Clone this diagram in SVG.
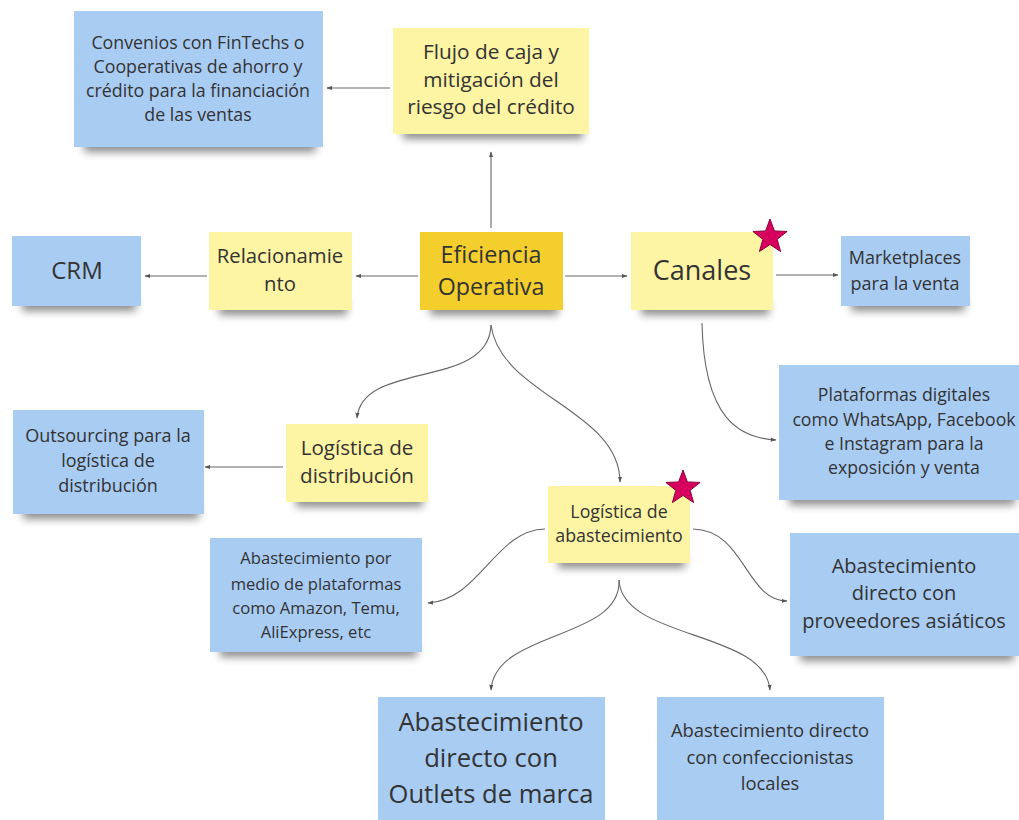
<svg xmlns="http://www.w3.org/2000/svg" width="1019" height="820" viewBox="0 0 1019 820">
  <defs>
    <filter id="shadowBlur" x="-20%" y="-100%" width="140%" height="300%">
      <feGaussianBlur stdDeviation="4"/>
    </filter>
    <marker id="arrow" viewBox="0 0 10 10" refX="9" refY="5" markerWidth="6" markerHeight="6" orient="auto-start-reverse" markerUnits="userSpaceOnUse">
      <path d="M0,1.5 L10,5 L0,8.5 z" fill="#555"/>
    </marker>
    <polygon id="star" points="0,-18 4.41,-6.07 17.12,-5.56 7.13,2.32 10.58,14.56 0,7.5 -10.58,14.56 -7.13,2.32 -17.12,-5.56 -4.41,-6.07"/>
  </defs>
  <style>
    .blue { fill: #a9ccf3; }
    .yellow { fill: #fdf4a4; }
    .main { fill: #f4ce2d; }
    .shadow { fill: #000; opacity: 0.45; filter: url(#shadowBlur); }
    text { font-family: "Open Sans", "Noto Sans", "DejaVu Sans", sans-serif; fill: #333; text-anchor: middle; }
    .edge { fill: none; stroke: #666; stroke-width: 1.1; marker-end: url(#arrow); }
    .star { fill: #d8005e; stroke: #8a0038; stroke-width: 1; }
  </style>

  <rect width="1019" height="820" fill="#ffffff"/>

  <!-- connectors -->
  <g id="connectors">
    <path class="edge" d="M390,88 L327,88"/>
    <path class="edge" d="M491,228 L491,152"/>
    <path class="edge" d="M418,276 L356,276"/>
    <path class="edge" d="M207,276 L145,276"/>
    <path class="edge" d="M565,276 L627,276"/>
    <path class="edge" d="M776,275 L838,275"/>
    <path class="edge" d="M702,323 C704,420 740,438 776,440"/>
    <path class="edge" d="M491,325 C489,390 362,360 357,418"/>
    <path class="edge" d="M491,325 C500,395 620,410 620,482"/>
    <path class="edge" d="M283,467 L205,467"/>
    <path class="edge" d="M545,529 C495,530 480,600 428,603"/>
    <path class="edge" d="M693,529 C745,530 745,600 787,601"/>
    <path class="edge" d="M619,580 C622,640 495,630 491,690"/>
    <path class="edge" d="M619,580 C622,640 765,630 770,690"/>
  </g>

  <!-- Convenios -->
  <g id="node-convenios">
    <rect class="shadow" x="84" y="138" width="232" height="14"/>
    <rect class="blue" x="74" y="11" width="249" height="136"/>
    <text font-size="17.8"><tspan x="198" y="49">Convenios con FinTechs o</tspan><tspan x="198" y="73">Cooperativas de ahorro y</tspan><tspan x="198" y="97">crédito para la financiación</tspan><tspan x="198" y="121">de las ventas</tspan></text>
  </g>

  <!-- Flujo de caja -->
  <g id="node-flujo">
    <rect class="shadow" x="403" y="125" width="180" height="14"/>
    <rect class="yellow" x="393" y="28" width="196" height="106"/>
    <text font-size="20.8"><tspan x="491" y="59">Flujo de caja y</tspan><tspan x="491" y="87">mitigación del</tspan><tspan x="491" y="114">riesgo del crédito</tspan></text>
  </g>

  <!-- Eficiencia Operativa -->
  <g id="node-eficiencia">
    <rect class="shadow" x="430" y="301" width="128" height="14"/>
    <rect class="main" x="420" y="232" width="143" height="78"/>
    <text font-size="23.3"><tspan x="491" y="263">Eficiencia</tspan><tspan x="491" y="295">Operativa</tspan></text>
  </g>

  <!-- Relacionamiento -->
  <g id="node-relacionamiento">
    <rect class="shadow" x="219" y="301" width="128" height="14"/>
    <rect class="yellow" x="209" y="232" width="143" height="78"/>
    <text font-size="20.3"><tspan x="280" y="263">Relacionamie</tspan><tspan x="280" y="291">nto</tspan></text>
  </g>

  <!-- CRM -->
  <g id="node-crm">
    <rect class="shadow" x="22" y="297" width="114" height="14"/>
    <rect class="blue" x="12" y="236" width="129" height="70"/>
    <text font-size="24" x="77" y="279">CRM</text>
  </g>

  <!-- Canales -->
  <g id="node-canales">
    <rect class="shadow" x="641" y="301" width="128" height="14"/>
    <rect class="yellow" x="631" y="232" width="142" height="78"/>
    <text font-size="27" x="702" y="280">Canales</text>
    <use href="#star" class="star" transform="translate(770,237)"/>
  </g>

  <!-- Marketplaces -->
  <g id="node-marketplaces">
    <rect class="shadow" x="851" y="297" width="114" height="14"/>
    <rect class="blue" x="841" y="236" width="129" height="70"/>
    <text font-size="18"><tspan x="905" y="264">Marketplaces</tspan><tspan x="905" y="290">para la venta</tspan></text>
  </g>

  <!-- Plataformas digitales -->
  <g id="node-plataformas">
    <rect class="shadow" x="789" y="491" width="226" height="14"/>
    <rect class="blue" x="779" y="365" width="240" height="135"/>
    <text font-size="17.7"><tspan x="904" y="401">Plataformas digitales</tspan><tspan x="904" y="426">como WhatsApp, Facebook</tspan><tspan x="904" y="450">e Instagram para la</tspan><tspan x="904" y="474">exposición y venta</tspan></text>
  </g>

  <!-- Logística de distribución -->
  <g id="node-distribucion">
    <rect class="shadow" x="296" y="493" width="127" height="14"/>
    <rect class="yellow" x="286" y="424" width="142" height="78"/>
    <text font-size="20.6"><tspan x="357" y="455">Logística de</tspan><tspan x="357" y="483">distribución</tspan></text>
  </g>

  <!-- Outsourcing -->
  <g id="node-outsourcing">
    <rect class="shadow" x="23" y="505" width="176" height="14"/>
    <rect class="blue" x="13" y="410" width="191" height="104"/>
    <text font-size="18"><tspan x="108" y="442">Outsourcing para la</tspan><tspan x="108" y="467">logística de</tspan><tspan x="108" y="492">distribución</tspan></text>
  </g>

  <!-- Logística de abastecimiento -->
  <g id="node-abastecimiento">
    <rect class="shadow" x="558" y="554" width="127" height="14"/>
    <rect class="yellow" x="548" y="486" width="142" height="77"/>
    <text font-size="17.8"><tspan x="619" y="518">Logística de</tspan><tspan x="619" y="542">abastecimiento</tspan></text>
    <use href="#star" class="star" transform="translate(683,488)"/>
  </g>

  <!-- Abastecimiento por medio de plataformas -->
  <g id="node-plataformas-compra">
    <rect class="shadow" x="220" y="643" width="197" height="14"/>
    <rect class="blue" x="210" y="538" width="212" height="114"/>
    <text font-size="16.6"><tspan x="316" y="564">Abastecimiento por</tspan><tspan x="316" y="590">medio de plataformas</tspan><tspan x="316" y="614">como Amazon, Temu,</tspan><tspan x="316" y="638">AliExpress, etc</tspan></text>
  </g>

  <!-- Proveedores asiáticos -->
  <g id="node-asiaticos">
    <rect class="shadow" x="800" y="647" width="214" height="14"/>
    <rect class="blue" x="790" y="533" width="229" height="123"/>
    <text font-size="20"><tspan x="904" y="573">Abastecimiento</tspan><tspan x="904" y="600">directo con</tspan><tspan x="904" y="628">proveedores asiáticos</tspan></text>
  </g>

  <!-- Outlets de marca -->
  <g id="node-outlets">
    <rect class="blue" x="378" y="697" width="227" height="123"/>
    <text font-size="25.6"><tspan x="491" y="731">Abastecimiento</tspan><tspan x="491" y="767">directo con</tspan><tspan x="491" y="803">Outlets de marca</tspan></text>
  </g>

  <!-- Confeccionistas locales -->
  <g id="node-confeccionistas">
    <rect class="blue" x="657" y="697" width="227" height="123"/>
    <text font-size="18.4"><tspan x="770" y="737">Abastecimiento directo</tspan><tspan x="770" y="764">con confeccionistas</tspan><tspan x="770" y="790">locales</tspan></text>
  </g>
</svg>
